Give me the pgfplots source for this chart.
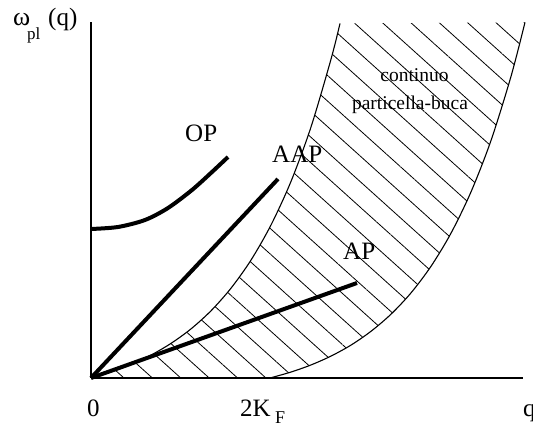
\documentclass[border=0pt]{standalone}
\usepackage{pgfplots}
\pgfplotsset{compat=1.18}
\usepgfplotslibrary{fillbetween}
\usetikzlibrary{patterns.meta}
\usepackage{fontspec}
\setmainfont{Liberation Serif}
\begin{document}
\begin{tikzpicture}
\begin{axis}[x=1pt,y=1pt,xmin=0,xmax=432,ymin=0,ymax=356,
  axis lines=left, axis line style={-,line width=1.5pt},
  xtick=\empty, ytick=\empty, clip=false, at={(0pt,0pt)}, anchor=south west]
% left boundary of the particle-hole continuum
\addplot[name path=L, smooth, line width=1.1pt] coordinates {
 (0,0) (20,6.0) (40,13.5) (60,22.9) (80,34.6) (100,49.1) (120,67.2) (140,89.8)
 (160,117.9) (180,153) (200,196.6) (220,251) (240,318.8) (249,354.5)};
% right boundary
\addplot[name path=R, smooth, line width=1.1pt] coordinates {
 (179,0) (200,5.95) (220,13.05) (240,21.9) (260,32.9) (280,46.7) (300,63.8)
 (320,85.1) (340,111.7) (360,144.8) (380,186.1) (400,237.5) (420,301.6) (434,355.6)};
\addplot[draw=none, pattern={Lines[angle=-42,distance=19pt,line width=0.8pt,xshift=3.6pt,yshift=4pt]}]
  fill between[of=L and R];
% OP
\addplot[smooth, line width=4pt] coordinates {
 (0,149) (27,151) (54,158) (77,170) (101,188) (121,206) (137,221)};
% AAP
\addplot[line width=4pt] coordinates {(0,0) (187,199)};
% AP
\addplot[line width=4pt] coordinates {(0,0) (266,95)};
\node[anchor=base west,font=\fontsize{25}{30}\selectfont,inner sep=0pt] at (axis cs:94,236) {OP};
\node[anchor=base west,font=\fontsize{25}{30}\selectfont,inner sep=0pt] at (axis cs:181,215) {AAP};
\node[anchor=base west,font=\fontsize{25}{30}\selectfont,inner sep=0pt] at (axis cs:252,118) {AP};
\node[anchor=base,font=\fontsize{19.5}{24}\selectfont,inner sep=0pt] at (axis cs:323.5,296) {continuo};
\node[anchor=base,font=\fontsize{19.5}{24}\selectfont,inner sep=0pt] at (axis cs:319,268) {particella-buca};
% axis labels
\node[anchor=base west,font=\fontsize{26}{30}\selectfont,inner sep=0pt] at (axis cs:-78,352) {ω};
\node[anchor=base west,font=\fontsize{17}{20}\selectfont,inner sep=0pt] at (axis cs:-64,338.5) {pl};
\node[anchor=base west,font=\fontsize{25}{30}\selectfont,inner sep=0pt] at (axis cs:-43,352) {(q)};
\node[anchor=base,font=\fontsize{25}{30}\selectfont,inner sep=0pt] at (axis cs:2.5,-39) {0};
\node[anchor=base west,font=\fontsize{25}{30}\selectfont,inner sep=0pt] at (axis cs:149,-39) {2K};
\node[anchor=base west,font=\fontsize{18}{20}\selectfont,inner sep=0pt] at (axis cs:184,-46) {F};
\node[anchor=base west,font=\fontsize{25}{30}\selectfont,inner sep=0pt] at (axis cs:432,-39) {q};
\end{axis}
\pgfresetboundingbox
\path[use as bounding box] (-91pt,-49pt) rectangle (442pt,378pt);
\end{tikzpicture}
\end{document}
